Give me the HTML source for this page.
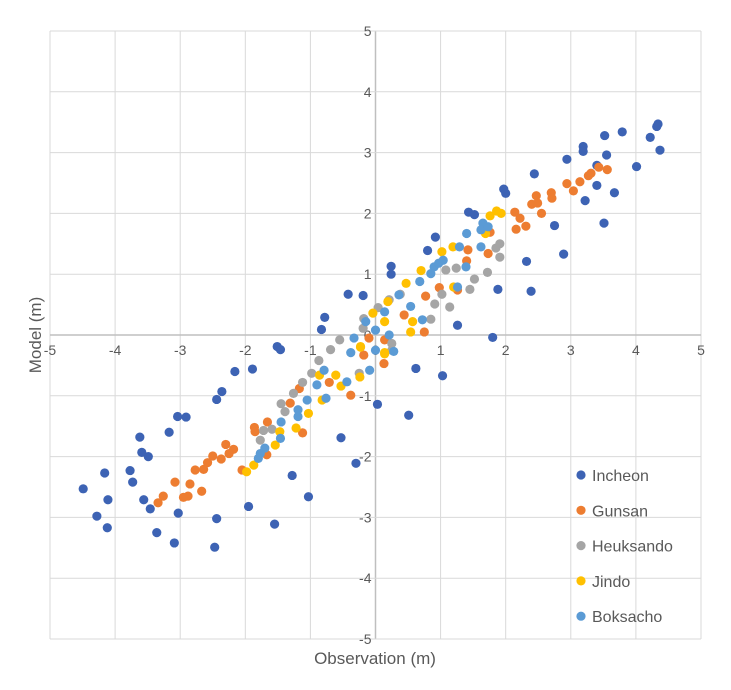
<!DOCTYPE html>
<html><head><meta charset="utf-8"><style>
html,body{margin:0;padding:0;background:#fff;}
svg{display:block;font-family:"Liberation Sans",sans-serif;}
</style></head><body>
<svg id="chart" width="731" height="690" viewBox="0 0 731 690" xmlns="http://www.w3.org/2000/svg">
<g id="grid"></g>
<g id="ticks"></g>
<g id="points"></g>
<text x="0" y="0" transform="translate(41,335) rotate(-90)" text-anchor="middle" font-size="17" fill="#595959">Model (m)</text>
<text x="375" y="664" text-anchor="middle" font-size="17" fill="#595959">Observation (m)</text>
<g id="legend"></g>
</svg>
<script>
const xTicks=[-5,-4,-3,-2,-1,0,1,2,3,4,5];
const yTicks=[-5,-4,-3,-2,-1,0,1,2,3,4,5];
const seriesNames=["Incheon","Gunsan","Heuksando","Jindo","Boksacho"];
const seriesColors=["#3d63b4","#ed7d31","#a5a5a5","#ffc000","#5b9bd5"];
const incheon=[[4.34,3.47],[4.32,3.43],[4.22,3.25],[4.37,3.04],[3.79,3.34],[3.52,3.28],[3.19,3.10],[3.19,3.02],[2.94,2.89],[3.55,2.96],[3.40,2.79],[4.01,2.77],[3.40,2.46],[3.67,2.34],[3.22,2.21],[3.51,1.84],[2.44,2.65],[1.97,2.40],[2.00,2.33],[2.75,1.80],[1.43,2.02],[1.52,1.98],[0.92,1.61],[0.80,1.39],[2.32,1.21],[2.89,1.33],[2.39,0.72],[1.88,0.75],[0.24,1.13],[0.24,1.00],[-0.42,0.67],[-0.19,0.65],[-0.78,0.29],[-0.83,0.09],[1.26,0.16],[1.80,-0.04],[-1.51,-0.19],[-1.46,-0.24],[0.62,-0.55],[1.03,-0.67],[-2.16,-0.60],[-1.89,-0.56],[-2.36,-0.93],[-2.44,-1.06],[-3.04,-1.34],[-2.91,-1.35],[-3.17,-1.60],[-3.62,-1.68],[-3.59,-1.93],[-3.49,-2.00],[-4.16,-2.27],[-3.77,-2.23],[-3.73,-2.42],[-4.49,-2.53],[-4.11,-2.71],[-3.56,-2.71],[-3.46,-2.86],[-4.28,-2.98],[-3.03,-2.93],[-4.12,-3.17],[-3.36,-3.25],[-3.09,-3.42],[-2.44,-3.02],[-2.47,-3.49],[-1.95,-2.82],[-1.55,-3.11],[-1.03,-2.66],[-1.28,-2.31],[-0.53,-1.69],[-0.30,-2.11],[0.03,-1.14],[0.51,-1.32]];
const gunsan=[[3.56,2.72],[3.43,2.76],[3.31,2.66],[3.27,2.62],[3.14,2.52],[3.04,2.37],[2.94,2.49],[2.70,2.34],[2.71,2.25],[2.47,2.29],[2.40,2.15],[2.49,2.17],[2.55,2.00],[2.14,2.02],[2.22,1.92],[2.31,1.79],[2.16,1.74],[1.76,1.69],[1.73,1.34],[1.42,1.40],[1.40,1.22],[1.26,0.74],[0.98,0.78],[0.77,0.64],[0.44,0.33],[0.75,0.05],[-0.10,-0.05],[0.14,-0.08],[-0.18,-0.33],[0.13,-0.47],[-0.38,-0.99],[-0.71,-0.78],[-1.17,-0.88],[-1.31,-1.12],[-1.12,-1.61],[-1.66,-1.43],[-1.86,-1.52],[-1.85,-1.59],[-1.67,-1.97],[-2.05,-2.22],[-2.30,-1.80],[-2.18,-1.88],[-2.25,-1.95],[-2.37,-2.04],[-2.50,-1.99],[-2.58,-2.10],[-2.64,-2.21],[-2.77,-2.22],[-2.85,-2.45],[-2.67,-2.57],[-3.08,-2.42],[-2.88,-2.65],[-2.95,-2.67],[-3.26,-2.65],[-3.34,-2.76]];
const heuksando=[[1.91,1.50],[1.85,1.43],[1.91,1.28],[1.72,1.03],[1.52,0.92],[1.45,0.75],[1.14,0.46],[1.02,0.67],[0.91,0.51],[0.85,0.26],[1.24,1.10],[1.08,1.07],[0.38,0.67],[0.21,0.58],[0.04,0.45],[-0.18,0.27],[-0.19,0.11],[0.25,-0.14],[-0.55,-0.08],[-0.69,-0.24],[-0.87,-0.42],[-0.98,-0.63],[-1.12,-0.78],[-1.26,-0.96],[-1.45,-1.13],[-1.39,-1.26],[-1.59,-1.55],[-1.72,-1.57],[-1.77,-1.73],[0.25,-0.25],[-0.25,-0.63]];
const jindo=[[1.86,2.04],[1.76,1.96],[1.93,2.00],[1.69,1.67],[1.19,1.45],[1.02,1.37],[0.70,1.06],[1.20,0.79],[0.47,0.85],[0.19,0.55],[0.14,0.22],[-0.04,0.36],[0.54,0.05],[0.57,0.22],[-0.23,-0.19],[0.14,-0.29],[-0.23,-0.20],[0.14,-0.31],[-0.24,-0.69],[-0.61,-0.66],[-0.86,-0.66],[-0.53,-0.84],[-0.82,-1.07],[-1.03,-1.29],[-1.22,-1.53],[-1.47,-1.59],[-1.54,-1.81],[-1.87,-2.14],[-1.98,-2.25]];
const boksacho=[[1.65,1.84],[1.62,1.73],[1.73,1.78],[1.62,1.45],[1.40,1.67],[1.29,1.45],[1.04,1.23],[0.90,1.12],[0.97,1.18],[0.85,1.01],[1.39,1.12],[1.26,0.79],[0.68,0.88],[0.36,0.66],[0.54,0.47],[0.72,0.25],[0.14,0.38],[-0.15,0.22],[0.00,0.08],[0.21,0.00],[-0.33,-0.05],[0.00,-0.25],[0.28,-0.27],[-0.09,-0.58],[-0.38,-0.29],[-0.79,-0.58],[-0.90,-0.82],[-0.44,-0.77],[-0.76,-1.04],[-1.05,-1.07],[-1.19,-1.23],[-1.19,-1.34],[-1.45,-1.43],[-1.46,-1.70],[-1.70,-1.86],[-1.77,-1.95],[-1.80,-2.03]];
const seriesData=[incheon,gunsan,heuksando,jindo,boksacho];

const NS="http://www.w3.org/2000/svg";
const L=50,R=701,T=31,B=639;
const xMin=-5,xMax=5,yMin=-5,yMax=5;
function sx(v){return L+(v-xMin)/(xMax-xMin)*(R-L);}
function sy(v){return B-(v-yMin)/(yMax-yMin)*(B-T);}
function mk(tag,attrs,parent){const e=document.createElementNS(NS,tag);for(const k in attrs)e.setAttribute(k,attrs[k]);parent.appendChild(e);return e;}

const grid=document.getElementById('grid');
xTicks.forEach(t=>{
  const ln=mk('line',{x1:sx(t),x2:sx(t),y1:T,y2:B,stroke:t===0?'#bfbfbf':'#d9d9d9','stroke-width':t===0?1.5:1},grid);
  
  
});
yTicks.forEach(t=>{
  const ln=mk('line',{x1:L,x2:R,y1:sy(t),y2:sy(t),stroke:t===0?'#bfbfbf':'#d9d9d9','stroke-width':t===0?1.5:1},grid);
  
  
});
const ticks=document.getElementById('ticks');
xTicks.forEach(t=>{
  const tx=mk('text',{x:sx(t),y:sy(0)+20,'text-anchor':'middle','font-size':14,fill:'#595959'},ticks);
  tx.textContent=String(t);
  
  
});
yTicks.forEach(t=>{
  const tx=mk('text',{x:sx(0)-4,y:sy(t)+5,'text-anchor':'end','font-size':14,fill:'#595959'},ticks);
  tx.textContent=String(t);
  
  
});
const pts=document.getElementById('points');
seriesData.forEach((arr,i)=>{
  const g=mk('g',{fill:seriesColors[i]},pts);
  
  
  arr.forEach(p=>{
    const c=mk('circle',{cx:sx(p[0]),cy:sy(p[1]),r:4.6},g);
    
    
  });
});
const leg=document.getElementById('legend');
seriesNames.forEach((n,i)=>{
  const y=475+i*35.3;
  const g=mk('g',{},leg);
  
  
  mk('circle',{cx:581,cy:y,r:4.6,fill:seriesColors[i]},g);
  const tx=mk('text',{x:592,y:y+6,'font-size':16,fill:'#595959'},g);
  tx.textContent=n;
});
</script>
</body></html>
